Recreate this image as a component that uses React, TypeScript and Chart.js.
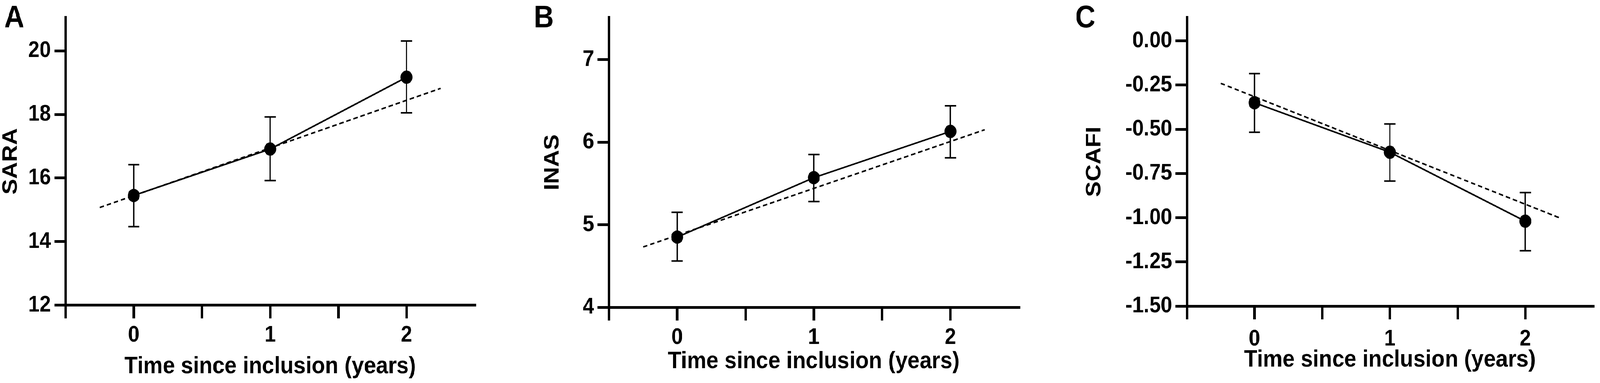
import React, { useEffect, useRef } from 'react';
import { Chart, registerables, ChartConfiguration, Plugin } from 'chart.js';

Chart.register(...registerables);

const FONT = '"Liberation Sans", Arial, Helvetica, sans-serif';

// time points (years) and the x-range of the dashed fit line
const timePoints = [0, 1, 2];
const fitX = [-0.25, 2.25];

// A - SARA
const saraMean = [15.45, 16.91, 19.17];
const saraUpper = [16.42, 17.92, 20.31];
const saraLower = [14.47, 15.92, 18.05];
const saraFit = [15.07, 18.82];

// B - INAS
const inasMean = [4.85, 5.57, 6.13];
const inasUpper = [5.15, 5.85, 6.44];
const inasLower = [4.56, 5.28, 5.81];
const inasFit = [4.73, 6.15];

// C - SCAFI
const scafiMean = [-0.35, -0.63, -1.02];
const scafiUpper = [-0.185, -0.47, -0.858];
const scafiLower = [-0.517, -0.793, -1.187];
const scafiFit = [-0.24, -1.0];

const xTitle = 'Time since inclusion (years)';

// the figure is laid out at 4550 x 981
const FIG_W = 4550;
const HEIGHT = 981;

interface PanelProps {
    letter: string;
    yTitle: string;
    mean: number[];
    upper: number[];
    lower: number[];
    fit: number[];
    yMin: number;
    yMax: number;
    yStep: number;
    decimals: number;
    left: number;
    width: number;
    yAxisWidth: number;
    xAxisHeight: number;
    padRight: number;
    letterX: number;
    yTitlePad: number;
    xTickPad: number;
    xTitlePad: number;
}

const letterPlugin = (letter: string, x: number): Plugin => ({
    id: 'panelLetter',
    afterDraw(chart) {
        const ctx = chart.ctx;
        ctx.save();
        ctx.font = `bold 79px ${FONT}`;
        ctx.fillStyle = '#000';
        ctx.textAlign = 'left';
        ctx.textBaseline = 'alphabetic';
        ctx.fillText(letter, x, 70);
        ctx.restore();
    },
});

const Panel: React.FC<PanelProps> = (p) => {
    const canvasRef = useRef<HTMLCanvasElement>(null);
    const chartRef = useRef<Chart>();

    useEffect(() => {
        if (!canvasRef.current) return;
        const ctx = canvasRef.current.getContext('2d');
        if (!ctx) return;
        if (chartRef.current) chartRef.current.destroy();

        const meanData = timePoints.map((t, i) => ({ x: t, y: p.mean[i] }));
        const fitData = fitX.map((t, i) => ({ x: t, y: p.fit[i] }));
        const errorSets = timePoints.map((t, i) => ({
            label: 'sd' + i,
            data: [
                { x: t, y: p.lower[i] },
                { x: t, y: p.upper[i] },
            ],
            showLine: true,
            borderColor: '#000',
            borderWidth: 3.5,
            pointStyle: 'line' as const,
            pointRadius: 16,
            pointHoverRadius: 16,
            pointBorderWidth: 4,
            pointBorderColor: '#000',
            pointBackgroundColor: '#000',
        }));

        const config: ChartConfiguration = {
            type: 'line',
            data: {
                datasets: [
                    {
                        label: 'mean',
                        data: meanData,
                        borderColor: '#000',
                        borderWidth: 4,
                        pointRadius: 15,
                        pointHoverRadius: 15,
                        pointBackgroundColor: '#000',
                        pointBorderColor: '#000',
                        tension: 0,
                    },
                    {
                        label: 'fit',
                        data: fitData,
                        borderColor: '#000',
                        borderWidth: 4,
                        borderDash: [13, 8],
                        pointRadius: 0,
                        tension: 0,
                    },
                    ...errorSets,
                ],
            },
            options: {
                responsive: false,
                animation: false,
                events: [],
                layout: {
                    padding: { top: 7, right: p.padRight, bottom: 0, left: 0 },
                },
                plugins: {
                    legend: { display: false },
                    tooltip: { enabled: false },
                },
                scales: {
                    x: {
                        type: 'linear',
                        min: -0.5,
                        max: 2.5,
                        afterFit: (s: any) => {
                            s.height = p.xAxisHeight;
                        },
                        border: { display: true, color: '#000', width: 7 },
                        grid: {
                            drawOnChartArea: false,
                            drawTicks: true,
                            tickLength: 34,
                            lineWidth: 7,
                            tickWidth: 7,
                            color: '#000',
                            // no tick mark at the right end of the axis
                            tickColor: (c: any) =>
                                c.tick && c.tick.value > 2.4 ? 'rgba(0,0,0,0)' : '#000',
                        },
                        ticks: {
                            stepSize: 0.5,
                            autoSkip: false,
                            maxRotation: 0,
                            padding: p.xTickPad,
                            color: '#000',
                            font: { family: FONT, size: 58, weight: 'bold', lineHeight: 1.2 },
                            callback: (v: any) => (Number.isInteger(v) ? String(v) : ''),
                        },
                        title: {
                            display: true,
                            text: xTitle,
                            color: '#000',
                            font: { family: FONT, size: 62, weight: 'bold', lineHeight: 1 },
                            padding: { top: 0, bottom: p.xTitlePad },
                        },
                    },
                    y: {
                        type: 'linear',
                        min: p.yMin,
                        max: p.yMax,
                        afterFit: (s: any) => {
                            s.width = p.yAxisWidth;
                        },
                        border: { display: true, color: '#000', width: 7 },
                        grid: {
                            drawOnChartArea: false,
                            drawTicks: true,
                            tickLength: 32,
                            lineWidth: 7,
                            tickWidth: 7,
                            color: '#000',
                            tickColor: '#000',
                        },
                        ticks: {
                            stepSize: p.yStep,
                            includeBounds: false,
                            autoSkip: false,
                            padding: 10,
                            color: '#000',
                            font: { family: FONT, size: 58, weight: 'bold', lineHeight: 1.2 },
                            callback: (v: any) => Number(v).toFixed(p.decimals),
                        },
                        title: {
                            display: true,
                            text: p.yTitle,
                            color: '#000',
                            font: { family: FONT, size: 60, weight: 'bold', lineHeight: 1 },
                            padding: { top: p.yTitlePad, bottom: 0 },
                        },
                    },
                },
            } as any,
            plugins: [letterPlugin(p.letter, p.letterX)],
        };

        chartRef.current = new Chart(ctx, config);

        return () => {
            if (chartRef.current) {
                chartRef.current.destroy();
                chartRef.current = undefined;
            }
        };
        // eslint-disable-next-line react-hooks/exhaustive-deps
    }, []);

    return (
        <canvas
            ref={canvasRef}
            width={p.width}
            height={HEIGHT}
            style={{ position: 'absolute', left: p.left, top: 0, width: p.width, height: HEIGHT }}
        />
    );
};

const App: React.FC = () => {
    // the browser caps the window width, so squeeze the 4550px-wide figure into what is there
    const viewW = typeof window !== 'undefined' ? window.innerWidth : FIG_W;
    const sx = Math.min(1, viewW / FIG_W);

    return (
        <div
            style={{
                position: 'absolute',
                left: 0,
                top: 0,
                width: Math.round(FIG_W * sx),
                height: HEIGHT,
                overflow: 'hidden',
                background: '#fff',
            }}
        >
            <div
                style={{
                    position: 'absolute',
                    left: 0,
                    top: 0,
                    width: FIG_W,
                    height: HEIGHT,
                    transform: `scale(${sx}, 1)`,
                    transformOrigin: '0 0',
                }}
            >
                <Panel
                    letter="A"
                    yTitle="SARA"
                    mean={saraMean}
                    upper={saraUpper}
                    lower={saraLower}
                    fit={saraFit}
                    yMin={12}
                    yMax={21.05}
                    yStep={2}
                    decimals={0}
                    left={0}
                    width={1400}
                    yAxisWidth={186.5}
                    xAxisHeight={199.5}
                    padRight={50}
                    letterX={12}
                    yTitlePad={1}
                    xTickPad={9}
                    xTitlePad={11.5}
                />
                <Panel
                    letter="B"
                    yTitle="INAS"
                    mean={inasMean}
                    upper={inasUpper}
                    lower={inasLower}
                    fit={inasFit}
                    yMin={4}
                    yMax={7.51}
                    yStep={1}
                    decimals={0}
                    left={1500}
                    width={1420}
                    yAxisWidth={231.5}
                    xAxisHeight={194}
                    padRight={23}
                    letterX={18}
                    yTitlePad={41.7}
                    xTickPad={9}
                    xTitlePad={24.5}
                />
                <Panel
                    letter="C"
                    yTitle="SCAFI"
                    mean={scafiMean}
                    upper={scafiUpper}
                    lower={scafiLower}
                    fit={scafiFit}
                    yMin={-1.5}
                    yMax={0.132}
                    yStep={0.25}
                    decimals={2}
                    left={3050}
                    width={1500}
                    yAxisWidth={325}
                    xAxisHeight={197}
                    padRight={10}
                    letterX={8}
                    yTitlePad={32}
                    xTickPad={16}
                    xTitlePad={28.5}
                />
            </div>
        </div>
    );
};

export default App;
